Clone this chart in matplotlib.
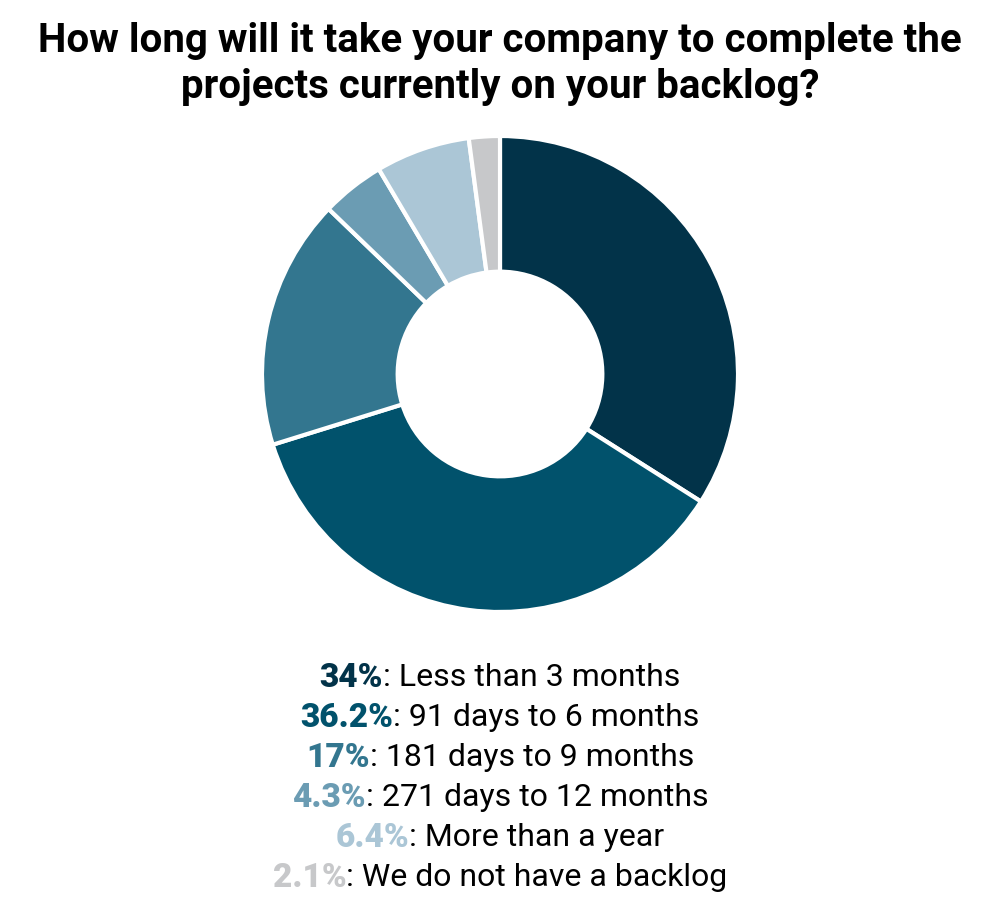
import numpy as np
import matplotlib.pyplot as plt

# dados do gráfico
categorias = ["Less than 3 months", "91 days to 6 months", "181 days to 9 months",
              "271 days to 12 months", "More than a year", "We do not have a backlog"]
valores = [34, 36.2, 17, 4.3, 6.4, 2.1]
rotulos = ["34%", "36.2%", "17%", "4.3%", "6.4%", "2.1%"]
cores = ["#023349", "#01526c", "#33768f", "#6b9cb3", "#abc6d6", "#c7c8ca"]

W, H = 1000, 902
fig = plt.figure(figsize=(W / 100, H / 100), dpi=100)

titulo = "How long will it take your company to complete the\nprojects currently on your backlog?"
fig.text(0.5, 1 - 64 / H, titulo, ha="center", va="center", fontsize=29,
         fontweight="bold", family="Roboto", linespacing=1.3)

# rosca
cx, cy, r = 500, 374, 238 * 1.02
ax = fig.add_axes([(cx - r) / W, (H - cy - r) / H, 2 * r / W, 2 * r / H])
ax.pie(valores, colors=cores, startangle=90, counterclock=False, radius=1,
       wedgeprops=dict(width=0.57, edgecolor="white", linewidth=3))
ax.set_xlim(-1.02, 1.02)
ax.set_ylim(-1.02, 1.02)
ax.set_aspect("equal")
ax.axis("off")

# legenda centralizada: parte em negrito colorida + texto normal
fig.canvas.draw()
renderer = fig.canvas.get_renderer()
y0 = 678
for i, (rot, cat, cor) in enumerate(zip(rotulos, categorias, cores)):
    y = 1 - (y0 + 40 * i) / H
    t1 = fig.text(0, y, rot, fontsize=24, fontweight="black", color=cor,
                  family="Roboto", va="center", ha="left")
    t2 = fig.text(0, y, ": " + cat, fontsize=23, color="black",
                  family="Roboto", va="center", ha="left")
    w1 = t1.get_window_extent(renderer).width
    w2 = t2.get_window_extent(renderer).width
    x_ini = (W - (w1 + w2)) / 2
    t1.set_x(x_ini / W)
    t2.set_x((x_ini + w1) / W)

fig.savefig("out.png", dpi=100)
